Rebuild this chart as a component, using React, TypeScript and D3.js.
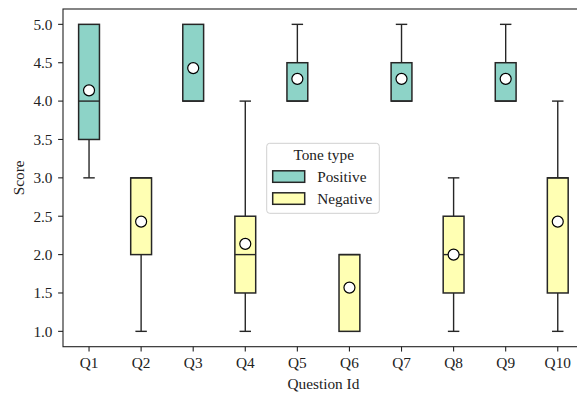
import React from 'react'
import * as d3 from 'd3'

const questions = ['Q1', 'Q2', 'Q3', 'Q4', 'Q5', 'Q6', 'Q7', 'Q8', 'Q9', 'Q10']
const tones = ['Positive', 'Negative', 'Positive', 'Negative', 'Positive', 'Negative', 'Positive', 'Negative', 'Positive', 'Negative']
const whiskerLow = [3, 1, 4, 1, 4, 1, 4, 1, 4, 1]
const lowerQuartile = [3.5, 2, 4, 1.5, 4, 1, 4, 1.5, 4, 1.5]
const medians = [4, 3, 4, 2, 4, 2, 4, 2, 4, 3]
const upperQuartile = [5, 3, 5, 2.5, 4.5, 2, 4.5, 2.5, 4.5, 3]
const whiskerHigh = [5, 3, 5, 4, 5, 2, 5, 3, 5, 4]
const means = [4.14, 2.43, 4.43, 2.14, 4.29, 1.57, 4.29, 2.0, 4.29, 2.43]
const yTicks = [1.0, 1.5, 2.0, 2.5, 3.0, 3.5, 4.0, 4.5, 5.0]
const toneTypes = ['Positive', 'Negative']
const toneColors = ['#8dd3c7', '#ffffb3']

const W = 577
const H = 398
const left = 63
const right = 583.8
const top = 9
const bottom = 346.7
const font = "'Liberation Serif', 'Times New Roman', serif"
const fs = 15.3
const edge = '#262626'

export default function App() {
  const x = d3.scaleBand<string>().domain(questions).range([left, right])
  const y = d3.scaleLinear().domain([0.8, 5.2]).range([bottom, top])
  const color = d3.scaleOrdinal<string, string>().domain(toneTypes).range(toneColors)
  const bw = x.bandwidth()
  const boxW = bw * 0.4
  const capW = bw * 0.22
  const fmt = d3.format('.1f')

  return (
    <svg width={W} height={H} style={{ position: 'absolute', left: 0, top: 0, fontFamily: font }}>
      <rect width={W} height={H} fill="#fff" />
      {questions.map((q, i) => {
        const cx = x(q)! + bw / 2
        return (
          <g key={q}>
            {whiskerLow[i] < lowerQuartile[i] && (
              <g stroke={edge} strokeWidth={1.4}>
                <line x1={cx} x2={cx} y1={y(lowerQuartile[i])} y2={y(whiskerLow[i])} />
                <line x1={cx - capW / 2} x2={cx + capW / 2} y1={y(whiskerLow[i])} y2={y(whiskerLow[i])} />
              </g>
            )}
            {whiskerHigh[i] > upperQuartile[i] && (
              <g stroke={edge} strokeWidth={1.4}>
                <line x1={cx} x2={cx} y1={y(upperQuartile[i])} y2={y(whiskerHigh[i])} />
                <line x1={cx - capW / 2} x2={cx + capW / 2} y1={y(whiskerHigh[i])} y2={y(whiskerHigh[i])} />
              </g>
            )}
            <rect
              x={cx - boxW / 2}
              width={boxW}
              y={y(upperQuartile[i])}
              height={y(lowerQuartile[i]) - y(upperQuartile[i])}
              fill={color(tones[i])}
              stroke={edge}
              strokeWidth={1.5}
            />
            <line x1={cx - boxW / 2} x2={cx + boxW / 2} y1={y(medians[i])} y2={y(medians[i])} stroke={edge} strokeWidth={1.4} />
            <circle cx={cx} cy={y(means[i])} r={5.5} fill="#fff" stroke="#000" strokeWidth={1.2} />
          </g>
        )
      })}

      {/* spines */}
      <rect x={left} y={top} width={right - left} height={bottom - top} fill="none" stroke="#222" strokeWidth={1.1} />

      {/* y axis */}
      {yTicks.map(t => (
        <g key={t} transform={`translate(${left},${y(t)})`}>
          <line x1={-4.9} x2={0} stroke="#222" strokeWidth={1.1} />
          <text x={-10.5} dy="0.35em" textAnchor="end" fontSize={fs} fill="#222">{fmt(t)}</text>
        </g>
      ))}
      <text transform={`translate(24,${(top + bottom) / 2}) rotate(-90)`} textAnchor="middle" fontSize={fs} fill="#222">Score</text>

      {/* x axis */}
      {questions.map(q => (
        <g key={q} transform={`translate(${x(q)! + bw / 2},${bottom})`}>
          <line y1={0} y2={4.9} stroke="#222" strokeWidth={1.1} />
          <text y={21.8} textAnchor="middle" fontSize={fs} fill="#222">{q}</text>
        </g>
      ))}
      <text x={(left + right) / 2} y={389} textAnchor="middle" fontSize={fs} fill="#222">Question Id</text>

      {/* legend */}
      <g transform="translate(266.7,143.3)">
        <rect width={112.6} height={70} rx={3} fill="#fff" fillOpacity={0.8} stroke="#d0d0d0" strokeWidth={1} />
        <text x={57} y={17} textAnchor="middle" fontSize={fs} fill="#222">Tone type</text>
        {toneTypes.map((t, i) => (
          <g key={t} transform={`translate(6,${27.5 + i * 22})`}>
            <rect width={32} height={11.5} fill={color(t)} stroke={edge} strokeWidth={1.5} />
            <text x={44.5} y={11.5} fontSize={fs} fill="#222">{t}</text>
          </g>
        ))}
      </g>
    </svg>
  )
}
